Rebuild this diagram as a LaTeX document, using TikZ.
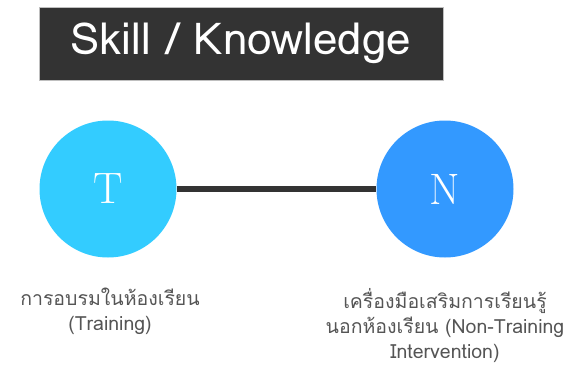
\documentclass[tikz,border=0pt]{standalone}
\usepackage{fontspec}
\newfontfamily\thaifont[Script=Thai]{Loma}
\definecolor{darkbar}{HTML}{333333}
\definecolor{tblue}{HTML}{33CCFF}
\definecolor{nblue}{HTML}{3399FF}
\definecolor{labelgray}{HTML}{555555}
\begin{document}
\begin{tikzpicture}[x=1pt,y=-1pt,
  ball/.style={circle,minimum size=137pt,inner sep=0pt,text=white,font=\fontsize{44}{44}\selectfont},
  caption/.style={align=center,text=labelgray,font=\thaifont\fontsize{19.5}{25}\selectfont}]
  \useasboundingbox (0,0) rectangle (582,367);
  % title bar
  \node[fill=darkbar,draw=black!25,line width=0.8pt,minimum width=404pt,minimum height=73pt,inner sep=0pt,
        text=white,font=\thaifont\fontsize{44}{44}\selectfont] (title) at (241,43.5) {Skill / Knowledge};
  % the two circles and the link between them
  \node[ball,fill=tblue] (t) at (108,189) {T};
  \node[ball,fill=nblue] (n) at (445,189) {N};
  \draw[darkbar,line width=6.5pt] (t.east) -- (n.west);
  % captions
  \node[caption,anchor=north,inner sep=1pt] (tl) at (110,287) {การอบรมในห้องเรียน\\(Training)};
  \node[caption,anchor=north,inner sep=1pt] (nl) at (445,287) {เครื่องมือเสริมการเรียนรู้\\นอกห้องเรียน (Non-Training\\Intervention)};
\end{tikzpicture}
\end{document}
